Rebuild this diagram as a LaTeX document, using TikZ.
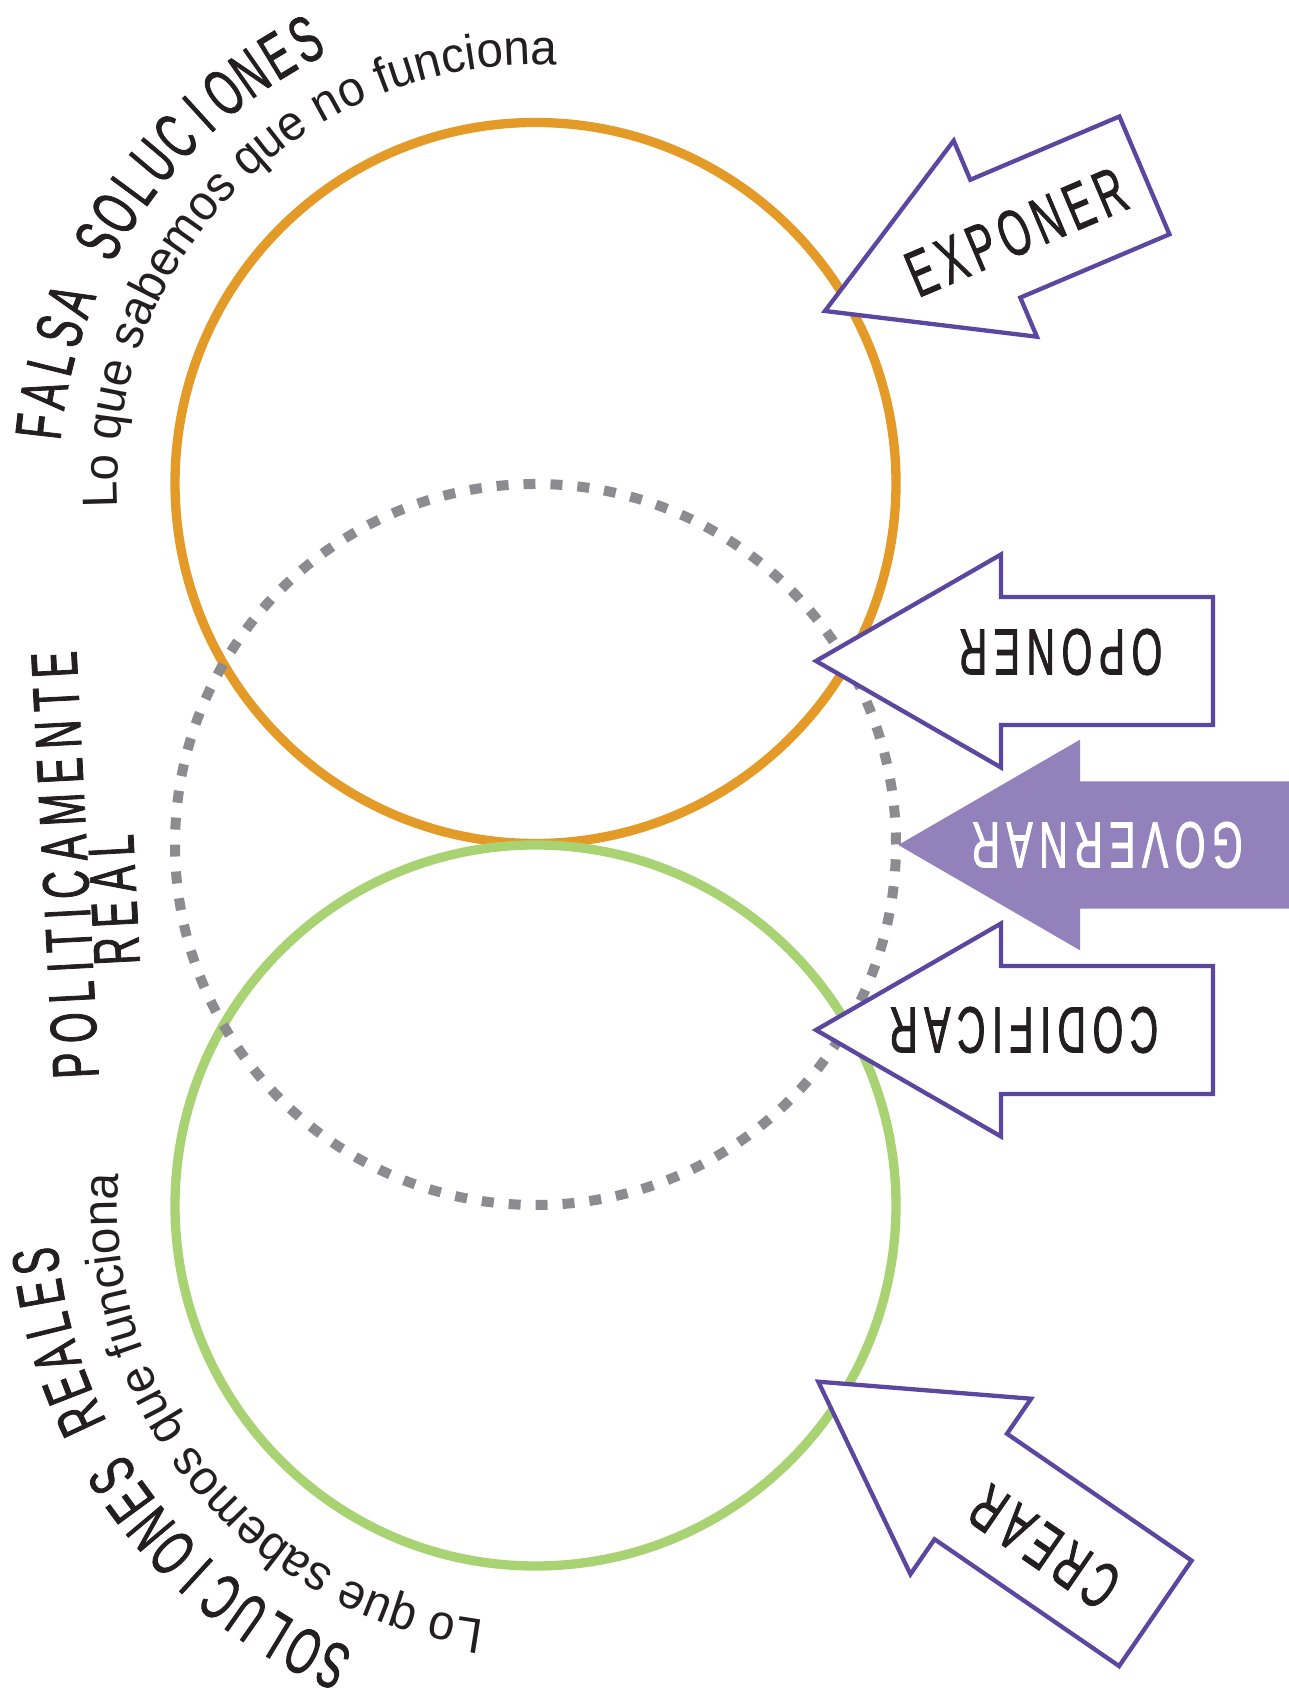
\documentclass[tikz,border=0pt]{standalone}
\usepackage{fontspec}
\setmainfont{Liberation Sans}
\newfontfamily\capsfont[FakeStretch=0.6,FakeBold=1.2,LetterSpace=10]{Liberation Sans}
\newfontfamily\sidefont[FakeStretch=0.6,FakeBold=1.2,LetterSpace=14]{Liberation Sans}
\newfontfamily\arccapsfont[FakeStretch=0.6,FakeBold=1.2]{Liberation Sans}
\newfontfamily\subfont[FakeStretch=0.96]{Liberation Sans}
\usepackage{tikz}
\usetikzlibrary{decorations.text}

\definecolor{orangering}{HTML}{E39A26}
\definecolor{greenring}{HTML}{A9D373}
\definecolor{grayring}{HTML}{8C8B90}
\definecolor{arrowline}{HTML}{5B47A0}
\definecolor{arrowfill}{HTML}{9381BB}
\definecolor{inkblack}{HTML}{231F20}

\begin{document}
\begin{tikzpicture}[x=1bp, y=1bp,
    ring/.style={line width=9.3bp},
    outlinearrow/.style={draw=arrowline, line width=4.3bp, fill=white, line join=miter},
    filledarrow/.style={fill=arrowfill},
    arrowlabel/.style={font=\capsfont\fontsize{65.6bp}{70bp}\selectfont, text=inkblack, inner sep=0pt},
    sidelabel/.style={font=\sidefont\fontsize{65.6bp}{70bp}\selectfont, text=inkblack, inner sep=0pt, rotate=93},
    arccaps/.style={font=\arccapsfont\fontsize{65.6bp}{70bp}\selectfont, text=inkblack, inner sep=0pt, anchor=base},
    subtitle/.style={decorate, decoration={text along path, text align=center, text color=inkblack,
        text={|\subfont\fontsize{49.5bp}{53bp}\selectfont|#1}}}
]
\path[use as bounding box, fill=white] (0,0) rectangle (1288,1695);

\coordinate (ocenter) at (535.5,1212);
\coordinate (pcenter) at (535.5,850.5);
\coordinate (gcenter) at (535.5,489.5);

% rings
\draw[ring, draw=orangering] (ocenter) circle[radius=360.5];
\draw[ring, draw=greenring] (gcenter) circle[radius=360.5];
\draw[grayring, line width=10bp, dash pattern=on 12bp off 14.97bp] (pcenter) circle[radius=360.5];

% EXPONER
\begin{scope}[shift={(825,1384)}, rotate=23, transform shape]
  \draw[outlinearrow] (0,0) -- (185,106.5) -- (185,64) -- (347,64) -- (347,-64) -- (185,-64) -- (185,-106.5) -- cycle;
  \node[arrowlabel] (exponer) at (207,-2) {EXPONER};
\end{scope}

% OPONER
\begin{scope}[shift={(816,1034)}]
  \draw[outlinearrow] (0,0) -- (185,106.5) -- (185,64) -- (397,64) -- (397,-64) -- (185,-64) -- (185,-106.5) -- cycle;
  \node[arrowlabel, rotate=180] (oponer) at (244.5,9) {OPONER};
\end{scope}

% GOVERNAR
\begin{scope}[shift={(898.3,850)}]
  \fill[filledarrow] (0,0) -- (181.7,105.3) -- (181.7,63.7) -- (400,63.7) -- (400,-63.7) -- (181.7,-63.7) -- (181.7,-105.3) -- cycle;
  \node[arrowlabel, text=white, rotate=180] (governar) at (208.7,0) {GOVERNAR};
\end{scope}

% CODIFICAR
\begin{scope}[shift={(816,665)}]
  \draw[outlinearrow] (0,0) -- (185,106.5) -- (185,64) -- (397,64) -- (397,-64) -- (185,-64) -- (185,-106.5) -- cycle;
  \node[arrowlabel, rotate=180] (codificar) at (207.7,0) {CODIFICAR};
\end{scope}

% CREAR
\begin{scope}[shift={(818.3,313.3)}, rotate=-34.5, transform shape]
  \draw[outlinearrow] (0,0) -- (185,106.5) -- (185,64) -- (409,64) -- (409,-64) -- (185,-64) -- (185,-106.5) -- cycle;
  \node[arrowlabel, rotate=180] (crear) at (280,-8) {CREAR};
\end{scope}

% texts round the orange ring
\begin{scope}[shift={(ocenter)}]
  \foreach \ch [count=\i] in {F,A,L,S,A,{},S,O,L,U,C,I,O,N,E,S}{
    \pgfmathsetmacro{\ang}{173.5-(\i-1)*3.74}
    \node[arccaps, rotate=\ang-90] (falsa\i) at (\ang:477) {\ch};
  }
  \path[subtitle={Lo que sabemos que no funciona}] (200.2:418) arc[start angle=200.2, end angle=70.2, radius=418];
\end{scope}

% texts round the green ring
\begin{scope}[shift={(gcenter)}]
  \foreach \ch [count=\i] in {S,O,L,U,C,I,O,N,E,S,{},R,E,A,L,E,S}{
    \pgfmathsetmacro{\ang}{246.2-(\i-1)*3.74}
    \node[arccaps, rotate=\ang-90] (reales\i) at (\ang:480) {\ch};
  }
  \path[subtitle={Lo que sabemos que funciona}] (284.3:418) arc[start angle=284.3, end angle=154.3, radius=418];
\end{scope}

% middle label
\node[sidelabel] (politicamente) at (65,830) {POLITICAMENTE};
\node[sidelabel] (real) at (114,795) {REAL};
\end{tikzpicture}
\end{document}
